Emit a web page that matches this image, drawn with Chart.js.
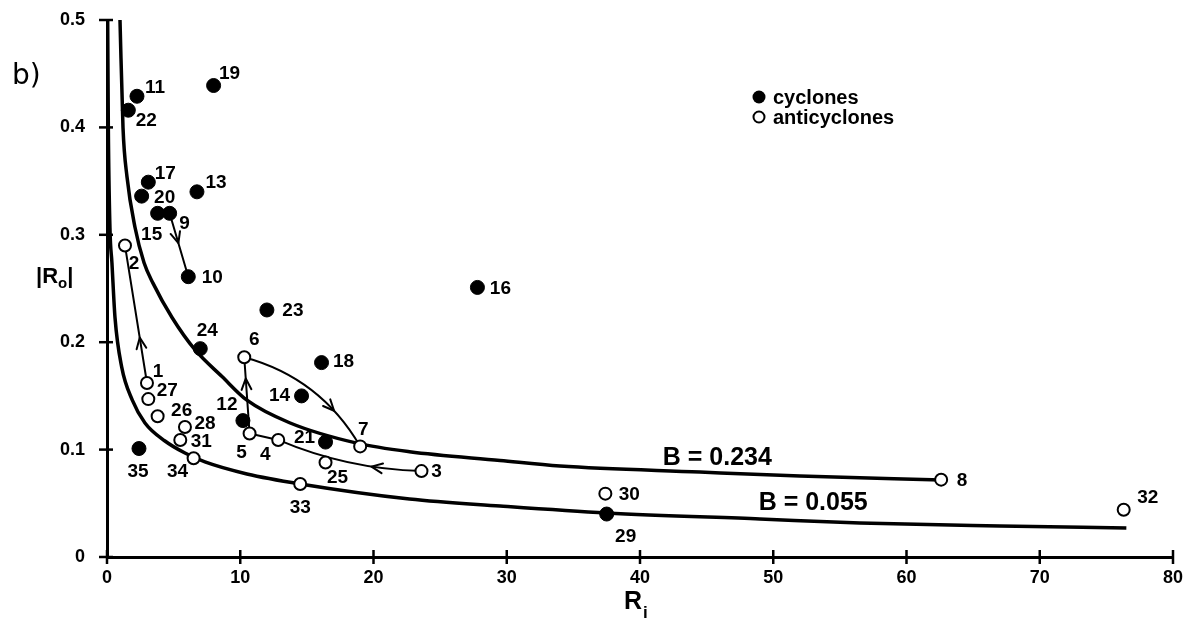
<!DOCTYPE html>
<html><head><meta charset="utf-8">
<script src="https://cdn.jsdelivr.net/npm/chart.js@4.4.0/dist/chart.umd.min.js"></script>
<style>html,body{margin:0;padding:0;background:#fff;}#wrap{width:1189px;height:633px;position:relative;}</style>
</head><body><div id="wrap"><canvas id="c" width="1189" height="633"></canvas></div>
<script>
// ---------- data ----------
const cycloneIds = [9, 10, 11, 12, 13, 14, 15, 16, 17, 18, 19, 20, 21, 22, 23, 24, 29, 35];
const cycloneRi  = [4.7, 6.1, 2.25, 10.2, 6.75, 14.6, 3.8, 27.8, 3.1, 16.1, 8.0, 2.6, 16.4, 1.6, 12.0, 7.0, 37.5, 2.4];
const cycloneRo  = [0.320, 0.261, 0.429, 0.127, 0.340, 0.150, 0.320, 0.251, 0.349, 0.181, 0.439, 0.336, 0.107, 0.416, 0.230, 0.194, 0.040, 0.101];

const anticycloneIds = [1, 2, 3, 4, 5, 6, 7, 8, 25, 26, 27, 28, 30, 31, 32, 33, 34];
const anticycloneRi  = [3.0, 1.35, 23.6, 12.85, 10.7, 10.3, 19.0, 62.6, 16.4, 3.8, 3.1, 5.85, 37.4, 5.5, 76.3, 14.5, 6.5];
const anticycloneRo  = [0.162, 0.290, 0.080, 0.109, 0.115, 0.186, 0.103, 0.072, 0.088, 0.131, 0.147, 0.121, 0.059, 0.109, 0.044, 0.068, 0.092];

// B = 0.234 curve
const curveHighRi = [0.975, 1.2, 1.5, 2.1, 2.78, 3.45, 4.88, 6.6, 8.63, 10.5, 13.7, 18.75, 22.7, 29.5, 34, 44.5, 52, 62.6];
const curveHighRo = [0.5, 0.4, 0.354, 0.307, 0.274, 0.255, 0.223, 0.193, 0.168, 0.146, 0.125, 0.106, 0.098, 0.0899, 0.0847, 0.0791, 0.0754, 0.0717];
// B = 0.055 curve
const curveLowRi = [0.05, 0.1, 0.22, 0.37, 0.6, 1.1, 1.9, 2.85, 4.35, 5.85, 7.35, 10.5, 14.5, 22.7, 29.5, 37.5, 49, 56.5, 67, 76.5];
const curveLowRo = [0.5, 0.4, 0.307, 0.274, 0.223, 0.177, 0.146, 0.1248, 0.108, 0.0968, 0.0885, 0.0773, 0.068, 0.054, 0.0475, 0.041, 0.0354, 0.0317, 0.0289, 0.027];

const curveLabels = ['B = 0.234', 'B = 0.055'];
const xTickValues = [0, 10, 20, 30, 40, 50, 60, 70, 80];
const yTickValues = [0, 0.1, 0.2, 0.3, 0.4, 0.5];

// trajectories: [from id, to id]
const tracks = [[9, 10], [1, 2], [3, 4], [4, 5], [5, 6], [6, 7]];

// ---------- styling (positions / sizes) ----------
const trackStyle = [
  {bend: 0, arrowAt: 0.47},
  {bend: 0, arrowAt: 0.33},
  {bend: -7, arrowAt: 0.34},
  {bend: 0, arrowAt: -1},
  {bend: 0, arrowAt: 0.72},
  {bend: -15, arrowAt: 0.71}
];
const labelOffset = {
  9:[15,9], 10:[24,0], 11:[18,-9], 12:[-16,-17], 13:[19,-10], 14:[-22,-1], 15:[-6,20], 16:[23,0],
  17:[17,-9], 18:[22,-2], 19:[16,-13], 20:[23,1], 21:[-21,-5], 22:[18,10], 23:[26,0], 24:[7,-19],
  29:[19,22], 35:[-1,22],
  1:[11,-12], 2:[9,17], 3:[15,0], 4:[-13,14], 5:[-8,18], 6:[10,-18], 7:[3,-18], 8:[21,0],
  25:[12,14], 26:[24,-7], 27:[19,-9], 28:[20,-4], 30:[24,0], 31:[21,1], 32:[24,-13], 33:[0,23], 34:[-16,13]
};
const curveLabelPos = [[45.8, 0.092], [53, 0.050]];

const FONT = '"Liberation Sans", Arial, Helvetica, sans-serif';
const toPts = (xs, ys) => xs.map((v, i) => ({x: v, y: ys[i]}));

function lookup(id) {
  let k = cycloneIds.indexOf(id);
  if (k >= 0) return {ri: cycloneRi[k], ro: cycloneRo[k]};
  k = anticycloneIds.indexOf(id);
  return {ri: anticycloneRi[k], ro: anticycloneRo[k]};
}

const deco = {
  id: 'deco',
  beforeDatasetsDraw(chart) {
    const {ctx, scales: {x, y}} = chart;
    ctx.save();
    ctx.strokeStyle = '#000'; ctx.lineWidth = 2; ctx.lineCap = 'round'; ctx.lineJoin = 'round';
    tracks.forEach((tr, i) => {
      const a = lookup(tr[0]), b = lookup(tr[1]);
      const P0 = {x: x.getPixelForValue(a.ri), y: y.getPixelForValue(a.ro)};
      const P2 = {x: x.getPixelForValue(b.ri), y: y.getPixelForValue(b.ro)};
      const st = trackStyle[i];
      const dx = P2.x - P0.x, dy = P2.y - P0.y, L = Math.hypot(dx, dy);
      const nx = -dy / L, ny = dx / L;
      const C = {x: (P0.x + P2.x) / 2 + nx * st.bend * 2, y: (P0.y + P2.y) / 2 + ny * st.bend * 2};
      ctx.beginPath(); ctx.moveTo(P0.x, P0.y); ctx.quadraticCurveTo(C.x, C.y, P2.x, P2.y); ctx.stroke();
      if (st.arrowAt > 0) {
        const t = st.arrowAt, mt = 1 - t;
        const bx = mt * mt * P0.x + 2 * mt * t * C.x + t * t * P2.x;
        const by = mt * mt * P0.y + 2 * mt * t * C.y + t * t * P2.y;
        const tx = 2 * mt * (C.x - P0.x) + 2 * t * (P2.x - C.x);
        const ty = 2 * mt * (C.y - P0.y) + 2 * t * (P2.y - C.y);
        const ang = Math.atan2(ty, tx), len = 12, sp = 0.42;
        ctx.beginPath();
        ctx.moveTo(bx - len * Math.cos(ang - sp), by - len * Math.sin(ang - sp));
        ctx.lineTo(bx, by);
        ctx.lineTo(bx - len * Math.cos(ang + sp), by - len * Math.sin(ang + sp));
        ctx.stroke();
      }
    });
    ctx.restore();
  },
  afterDraw(chart) {
    const {ctx, chartArea: ca, scales: {x, y}} = chart;
    ctx.save();
    ctx.strokeStyle = '#000'; ctx.fillStyle = '#000'; ctx.lineWidth = 2.5;
    // crossing tick marks
    xTickValues.forEach(v => {
      const px = x.getPixelForValue(v);
      ctx.beginPath(); ctx.moveTo(px, ca.bottom - 7); ctx.lineTo(px, ca.bottom + 7); ctx.stroke();
    });
    yTickValues.forEach(v => {
      const py = y.getPixelForValue(v);
      ctx.beginPath(); ctx.moveTo(ca.left - 8, py); ctx.lineTo(ca.left + 6, py); ctx.stroke();
    });
    // point labels
    ctx.font = 'bold 19px ' + FONT;
    ctx.textAlign = 'center'; ctx.textBaseline = 'middle';
    const drawLabels = (ids, ris, ros) => ids.forEach((id, i) => {
      const o = labelOffset[id] || [18, 0];
      ctx.fillText(String(id), x.getPixelForValue(ris[i]) + o[0], y.getPixelForValue(ros[i]) + o[1] + 1);
    });
    drawLabels(cycloneIds, cycloneRi, cycloneRo);
    drawLabels(anticycloneIds, anticycloneRi, anticycloneRo);
    // curve labels
    ctx.font = 'bold 25px ' + FONT;
    curveLabels.forEach((t, i) => {
      ctx.fillText(t, x.getPixelForValue(curveLabelPos[i][0]), y.getPixelForValue(curveLabelPos[i][1]));
    });
    // legend
    ctx.textAlign = 'left';
    ctx.font = 'bold 20px ' + FONT;
    ctx.beginPath(); ctx.arc(759, 97, 6.5, 0, Math.PI * 2); ctx.fill();
    ctx.fillText('cyclones', 773, 98);
    ctx.lineWidth = 2; ctx.fillStyle = '#fff';
    ctx.beginPath(); ctx.arc(759, 117, 5.5, 0, Math.PI * 2); ctx.fill(); ctx.stroke();
    ctx.fillStyle = '#000';
    ctx.fillText('anticyclones', 773, 118);
    // axis titles
    ctx.textBaseline = 'alphabetic';
    ctx.font = 'bold 22px ' + FONT;
    let cx = 36;
    ctx.fillText('|R', cx, 283); cx += ctx.measureText('|R').width;
    ctx.font = 'bold 15px ' + FONT;
    ctx.fillText('o', cx, 288); cx += ctx.measureText('o').width;
    ctx.font = 'bold 22px ' + FONT;
    ctx.fillText('|', cx, 283);
    ctx.font = 'bold 25px ' + FONT;
    ctx.fillText('R', 624, 609);
    const rw = ctx.measureText('R').width;
    ctx.font = 'bold 17px ' + FONT;
    ctx.fillText('i', 624 + rw + 1, 618);
    // panel letter
    ctx.font = '28px "DejaVu Sans", sans-serif';
    ctx.fillText('b)', 12, 84);
    ctx.restore();
  }
};

new Chart(document.getElementById('c'), {
  type: 'scatter',
  data: {
    datasets: [
      {label: 'cyclones', data: toPts(cycloneRi, cycloneRo), pointRadius: 7, pointBackgroundColor: '#000',
       pointBorderColor: '#000', pointBorderWidth: 1, order: 0},
      {label: 'anticyclones', data: toPts(anticycloneRi, anticycloneRo), pointRadius: 6, pointBackgroundColor: '#fff',
       pointBorderColor: '#000', pointBorderWidth: 2, order: 0},
      {label: curveLabels[0], data: toPts(curveHighRi, curveHighRo), showLine: true, pointRadius: 0,
       borderColor: '#000', borderWidth: 3.5, cubicInterpolationMode: 'monotone', order: 2},
      {label: curveLabels[1], data: toPts(curveLowRi, curveLowRo), showLine: true, pointRadius: 0,
       borderColor: '#000', borderWidth: 3.5, cubicInterpolationMode: 'monotone', order: 2}
    ]
  },
  options: {
    responsive: false, animation: false, devicePixelRatio: 1,
    layout: {padding: {top: 20, right: 16, left: 0, bottom: 0}},
    plugins: {legend: {display: false}, tooltip: {enabled: false}},
    scales: {
      x: {
        type: 'linear', min: 0, max: 80,
        afterBuildTicks: s => { s.ticks = xTickValues.map(v => ({value: v})); },
        afterFit: s => { s.height = 76; },
        grid: {display: false, drawTicks: true, tickLength: 10},
        border: {display: true, color: '#000', width: 3},
        ticks: {color: '#000', padding: 0, maxRotation: 0, font: {family: FONT, size: 18, weight: 'bold'}}
      },
      y: {
        type: 'linear', min: 0, max: 0.5,
        afterBuildTicks: s => { s.ticks = yTickValues.map(v => ({value: v})); },
        afterFit: s => { s.width = 107; },
        grid: {display: false, drawTicks: true, tickLength: 22},
        border: {display: true, color: '#000', width: 3},
        ticks: {color: '#000', padding: 0, font: {family: FONT, size: 18, weight: 'bold'},
                callback: v => v === 0 ? '0' : v.toFixed(1)}
      }
    }
  },
  plugins: [deco]
});
</script>
</body></html>
